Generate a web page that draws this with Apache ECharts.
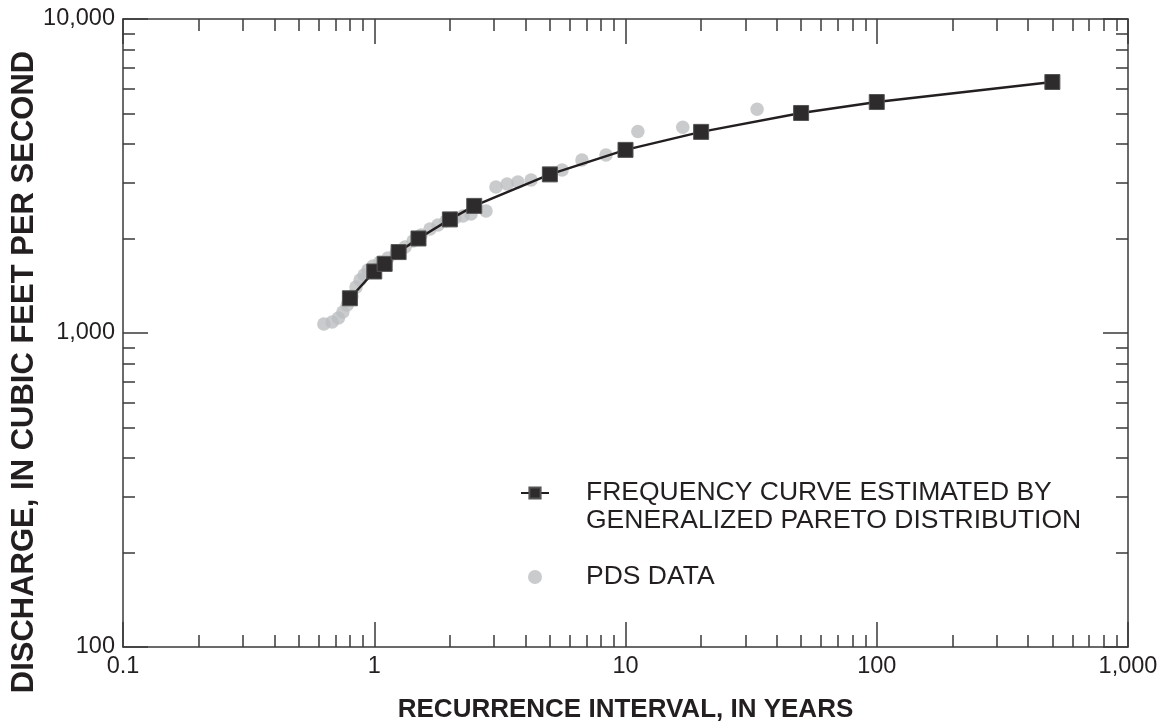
<!DOCTYPE html>
<html>
<head>
<meta charset="utf-8">
<script src="https://cdn.jsdelivr.net/npm/echarts@6/dist/echarts.min.js"></script>
<style>
html,body{margin:0;padding:0;background:#fff;}
#chart{width:1164px;height:723px;}
</style>
</head>
<body>
<div id="chart"></div>
<script>
// Frequency curve (generalized Pareto distribution)
const freqInterval = [0.8, 1, 1.1, 1.25, 1.5, 2, 2.5, 5, 10, 20, 50, 100, 500];
const freqDischarge = [1290, 1570, 1660, 1810, 2000, 2300, 2540, 3200, 3830, 4370, 5020, 5440, 6300];

// Partial-duration-series (PDS) data
const pdsInterval = [0.63, 0.68, 0.72, 0.75, 0.78, 0.815, 0.846, 0.878, 0.911, 0.944, 0.989, 1.054, 1.134, 1.221, 1.326, 1.427, 1.535, 1.667, 1.793, 1.93, 2.096, 2.255, 2.427, 2.785, 3.05, 3.38, 3.73, 4.21, 5.59, 6.71, 8.36, 11.2, 16.9, 33.4];
const pdsDischarge = [1068, 1084, 1116, 1166, 1228, 1312, 1400, 1475, 1530, 1587, 1635, 1683, 1734, 1798, 1879, 1963, 2051, 2144, 2208, 2274, 2324, 2359, 2393, 2446, 2917, 2982, 3026, 3071, 3304, 3556, 3689, 4383, 4520, 5158];

// Axis tick labels
const xTickLabels = [0.1, 1, 10, 100, 1000];
const yTickLabels = [100, 1000, 10000];

const xMinor = [];
[0.1, 1, 10, 100].forEach(d => { for (let k = 2; k <= 9; k++) xMinor.push(Number((d * k).toPrecision(6))); });
const yMinor = [];
[100, 1000].forEach(d => { for (let k = 2; k <= 9; k++) yMinor.push(d * k); });

const ink = '#231f20';
const axisColor = '#3a3a3a';
const fmt = v => Number(Number(v).toPrecision(6)).toLocaleString('en-US');
const fontFam = '"Liberation Sans", Arial, Helvetica, sans-serif';
const curveName = 'FREQUENCY CURVE ESTIMATED BY\nGENERALIZED PARETO DISTRIBUTION';

function mkAxis(type, pos, ticks, len, showLabel, showLine, extra) {
  const base = {
    type: 'log', logBase: 10, position: pos,
    min: type === 'x' ? 0.1 : 100,
    max: type === 'x' ? 1000 : 10000,
    axisLine: { show: showLine, lineStyle: { color: axisColor, width: 1.5 } },
    axisTick: { show: true, inside: true, length: len, customValues: ticks, lineStyle: { color: axisColor, width: 1.5 } },
    axisLabel: showLabel ? { show: true, customValues: ticks, formatter: fmt, fontSize: 23.5, color: ink, fontFamily: fontFam, margin: 8 } : { show: false },
    splitLine: { show: false },
    minorTick: { show: false }
  };
  return Object.assign(base, extra || {});
}

const chart = echarts.init(document.getElementById('chart'), null, { renderer: 'canvas' });
chart.setOption({
  backgroundColor: '#fff',
  animation: false,
  grid: { left: 123, right: 36, top: 19, bottom: 76, outerBoundsMode: 'none', containLabel: false },
  xAxis: [
    mkAxis('x', 'bottom', xTickLabels, 25, true, true, {
      name: 'RECURRENCE INTERVAL, IN YEARS', nameLocation: 'middle', nameGap: 50, nameMoveOverlap: false,
      nameTextStyle: { fontSize: 26, fontWeight: 'bold', color: ink, fontFamily: fontFam }
    }),
    mkAxis('x', 'bottom', xMinor, 12, false, false),
    mkAxis('x', 'top', xTickLabels, 25, false, true),
    mkAxis('x', 'top', xMinor, 12, false, false)
  ],
  yAxis: [
    mkAxis('y', 'left', yTickLabels, 25, true, true, {
      name: 'DISCHARGE, IN CUBIC FEET PER SECOND', nameLocation: 'middle', nameGap: 83, nameMoveOverlap: false,
      nameTextStyle: { fontSize: 31, fontWeight: 'bold', color: ink, fontFamily: fontFam, padding: [0, 78, 0, 0] }
    }),
    mkAxis('y', 'left', yMinor, 12, false, false),
    mkAxis('y', 'right', yTickLabels, 25, false, true),
    mkAxis('y', 'right', yMinor, 12, false, false)
  ],
  legend: {
    orient: 'vertical', left: 520, top: 451, padding: 0, itemGap: 28,
    itemWidth: 28, itemHeight: 14,
    formatter: n => (n === curveName ? ' \n' + n : n),
    textStyle: { fontSize: 26.5, color: ink, fontFamily: fontFam, lineHeight: 28, padding: [0, 0, 0, 32] },
    data: [ { name: curveName }, { name: 'PDS DATA' } ]
  },
  series: [
    {
      name: 'PDS DATA', type: 'scatter', xAxisIndex: 0, yAxisIndex: 0,
      symbol: 'circle', symbolSize: 13.5, z: 2,
      itemStyle: { color: '#bcbec0' },
      data: pdsInterval.map((x, i) => [x, pdsDischarge[i]])
    },
    {
      name: curveName, type: 'line', xAxisIndex: 0, yAxisIndex: 0,
      symbol: 'rect', symbolSize: 15, z: 3,
      lineStyle: { color: ink, width: 2.5 },
      itemStyle: { color: '#2d2b2c', borderColor: '#555', borderWidth: 1 },
      data: freqInterval.map((x, i) => [x, freqDischarge[i]])
    }
  ]
});
</script>
</body>
</html>
